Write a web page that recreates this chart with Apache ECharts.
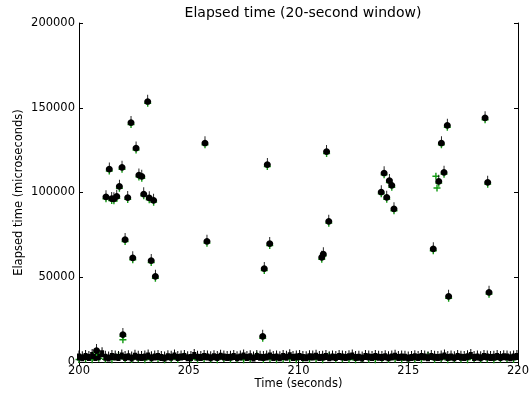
<!DOCTYPE html>
<html>
<head>
<meta charset="utf-8">
<script src="https://cdn.jsdelivr.net/npm/echarts@6/dist/echarts.min.js"></script>
<style>
    html, body { margin: 0; padding: 0; background: #fff; }
    #chart { width: 532px; height: 395px; }
</style>
</head>
<body>
<div id="chart"></div>
<script>
    // 尖峰点（秒, 微秒）
    var spikeTimes = [200.80, 201.23, 201.38, 201.49, 201.59, 201.72, 201.84, 201.96, 202.00, 202.10, 202.22, 202.37, 202.45, 202.60,
        202.73, 202.86, 202.95, 203.13, 203.20, 203.29, 203.40, 203.48,
        205.74, 205.83, 208.37, 208.44, 208.58, 208.69, 211.06, 211.13, 211.28, 211.38,
        213.77, 213.90, 214.02, 214.14, 214.25, 214.35, 216.14, 216.39, 216.51, 216.63, 216.78, 216.84, 218.50, 218.62, 218.68]
    var spikeValues = [6500, 97200, 113600, 96200, 96000, 97500, 103400, 114600, 16000, 72000, 96800, 141000, 61200, 126000,
        110100, 109300, 98900, 153500, 96600, 59600, 95200, 50300,
        129000, 71000, 14900, 54900, 116200, 69600, 61500, 63500, 123900, 82800,
        100100, 111300, 96900, 106800, 104000, 90100, 66500, 106400, 129000, 111700, 139400, 38500, 143800, 105800, 40900]
    // 只有绿色的点
    var greenOnlyTimes = [202.00, 216.26, 216.31]
    var greenOnlyValues = [14000, 110500, 103500]

    // 底部密集带
    var bandStart = 200
    var blackStep = 0.15
    var blackBand = [3200, 2800, 3600, 3000, 4100, 2900, 3400, 5200, 3100, 2700, 3500, 3300, 2900, 3800, 3000, 3400, 2600, 3700, 3100, 2900,
        3300, 3900, 2800, 3200, 3600, 3000, 2700, 3400, 3100, 3800, 2900, 3300, 3500, 2800, 3000, 4200, 3100, 2900, 3600, 3200,
        2800, 3400, 3000, 3700, 3300, 2900, 3100, 3500, 2800, 3200, 3900, 3000, 3400, 2700, 3600, 3100, 2900, 3300, 3800, 3000,
        3200, 2800, 3500, 3100, 4000, 2900, 3300, 3600, 3000, 2800, 3400, 3200, 3700, 2900, 3100, 3500, 2800, 3300, 3000, 3600,
        3200, 2900, 3400, 3800, 3000, 3100, 2700, 3500, 3300, 2900, 3600, 3100, 3000, 3400, 2800, 3200, 3700, 2900, 3300, 3100,
        2600, 2900, 3400, 3000, 3500, 3200, 2800, 3600, 3100, 2900, 3300, 3800, 3000, 3200, 2800, 3500, 3100, 2900, 3400, 4100,
        3000, 3200, 2800, 3600, 3300, 2900, 3100, 3500, 3000, 3400, 3200, 2800, 3300, 3600]
    var greenStep = 0.3
    var greenBand = [1500, 1800, 1300, 2200, 1600, 1400, 3900, 1700, 1500, 1900, 1300, 1600, 2000, 1400, 1800, 1500, 3600, 1700, 1300, 1900,
        1600, 1400, 2100, 1500, 1800, 1300, 1700, 4000, 1500, 1900, 1400, 1600, 1800, 1300, 2000, 1500, 1700, 1400, 3700, 1600,
        1800, 1500, 1300, 1900, 1600, 1400, 2100, 1500, 1700, 1300, 1800, 1600, 1400, 3800, 1500, 1900, 1300, 1700, 1600, 1400,
        2000, 1500, 1800, 1300, 1600, 1900, 1500]

    var xTicks = [200, 205, 210, 215, 220]
    var yTicks = [0, 50000, 100000, 150000, 200000]

    var font = 'DejaVu Sans'
    var blackMark = 'path://M4.4,0 L5.6,0 L5.6,4 C8.2,4.6 10,6 10,8.2 C10,10.6 7.8,12 5,12 C2.2,12 0,10.6 0,8.2 C0,6 1.8,4.6 4.4,4 Z'
    var bandMark = 'path://M0,3 L4,3 L4,10 L0,10 Z M1.5,0 L2.5,0 L2.5,3 L1.5,3 Z'
    var plusMark = 'path://M4,0 L6,0 L6,4 L10,4 L10,6 L6,6 L6,10 L4,10 L4,6 L0,6 L0,4 L4,4 Z'

    function pairs (times, values) {
        return values.map(function (v, i) { return [times[i], v] })
    }
    function stepped (start, step, values) {
        return values.map(function (v, i) { return [start + step * i, v] })
    }

    var chart = echarts.init(document.getElementById('chart'), null, { renderer: 'canvas' })
    var tickStyle = { inside: true, length: 4, lineStyle: { color: '#000', width: 1 } }
    var option = {
        animation: false,
        backgroundColor: '#fff',
        title: {
            text: 'Elapsed time (20-second window)',
            left: 298, top: 1, textAlign: 'center',
            textStyle: { fontFamily: font, fontSize: 14, fontWeight: 'normal', color: '#000' }
        },
        grid: { left: 79, right: 14, top: 23, bottom: 33, containLabel: false, outerBoundsMode: 'none' },
        xAxis: [
            {
                type: 'value', min: 200, max: 220, interval: 5,
                name: 'Time (seconds)', nameLocation: 'middle', nameGap: 16, nameMoveOverlap: false,
                nameTextStyle: { fontFamily: font, fontSize: 11.5, color: '#000' },
                axisLine: { lineStyle: { color: '#000' } },
                axisTick: tickStyle,
                axisLabel: { fontFamily: font, fontSize: 11.5, color: '#000', margin: 3,
                    formatter: function (v) { return xTicks.indexOf(v) >= 0 ? String(v) : '' } },
                splitLine: { show: false }
            },
            {
                type: 'value', min: 200, max: 220, interval: 5, position: 'top',
                axisLine: { lineStyle: { color: '#000' } },
                axisTick: tickStyle, axisLabel: { show: false }, splitLine: { show: false }
            }
        ],
        yAxis: [
            {
                type: 'value', min: 0, max: 200000, interval: 50000,
                name: 'Elapsed time (microseconds)', nameLocation: 'middle', nameGap: 54, nameRotate: 90, nameMoveOverlap: false,
                nameTextStyle: { fontFamily: font, fontSize: 11.5, color: '#000' },
                axisLine: { show: true, lineStyle: { color: '#000' } },
                axisTick: tickStyle,
                axisLabel: { fontFamily: font, fontSize: 11.5, color: '#000', margin: 4,
                    formatter: function (v) { return yTicks.indexOf(v) >= 0 ? String(v) : '' } },
                splitLine: { show: false }
            },
            {
                type: 'value', min: 0, max: 200000, interval: 50000, position: 'right',
                axisLine: { show: true, lineStyle: { color: '#000' } },
                axisTick: tickStyle, axisLabel: { show: false }, splitLine: { show: false }
            }
        ],
        series: [
            {
                name: 'green band', type: 'scatter', symbol: plusMark, symbolSize: 7,
                itemStyle: { color: '#118811', opacity: 1 }, data: stepped(bandStart, greenStep, greenBand), z: 1
            },
            {
                name: 'black band', type: 'scatter', symbol: bandMark, symbolSize: [4, 10], symbolOffset: [0, -1],
                itemStyle: { color: '#000', opacity: 1 }, data: stepped(bandStart, blackStep, blackBand), z: 2
            },
            {
                name: 'green', type: 'scatter', symbol: plusMark, symbolSize: 7, symbolOffset: [0, 1.5],
                itemStyle: { color: '#129a12', opacity: 1 },
                data: pairs(spikeTimes, spikeValues).concat(pairs(greenOnlyTimes, greenOnlyValues)), z: 3
            },
            {
                name: 'black', type: 'scatter', symbol: blackMark, symbolSize: [7, 10], symbolOffset: [0, -2],
                itemStyle: { color: '#000', opacity: 1 }, data: pairs(spikeTimes, spikeValues), z: 4
            }
        ]
    }
    option && chart.setOption(option)
</script>
</body>
</html>
